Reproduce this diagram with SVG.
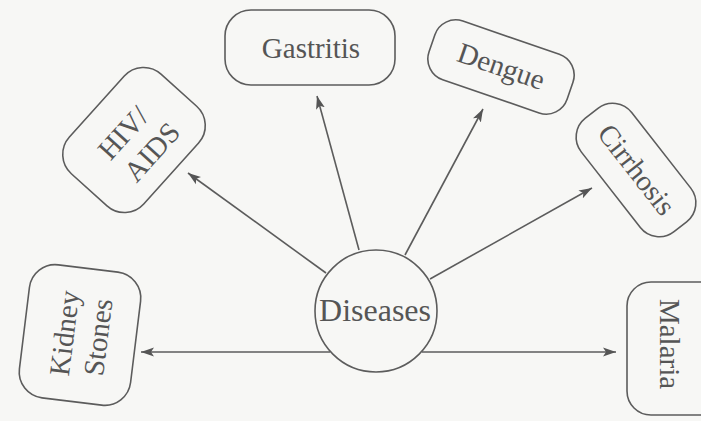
<svg xmlns="http://www.w3.org/2000/svg" width="701" height="421" viewBox="0 0 701 421">
<style>
.box{fill:#f7f7f5;stroke:#5c5c5c;stroke-width:1.6}
.t{font-family:"Liberation Serif","Times New Roman",serif;font-size:29px;fill:#555;text-anchor:middle}
.c{stroke:#5c5c5c;stroke-width:1.6;fill:none;marker-end:url(#ah)}
</style>
<defs>
<marker id="ah" markerUnits="userSpaceOnUse" markerWidth="14" markerHeight="10" refX="13" refY="5" orient="auto">
<path d="M0,0.5 L13,5 L0,9.5 L3,5 Z" fill="#555"/>
</marker>
</defs>
<rect x="0" y="0" width="701" height="421" fill="#f7f7f5"/>
<g id="connectors">
<line class="c" x1="326" y1="273" x2="188" y2="173"/>
<line class="c" x1="359" y1="250" x2="317" y2="96"/>
<line class="c" x1="405" y1="255" x2="483" y2="109"/>
<line class="c" x1="430" y1="279" x2="592" y2="188"/>
<line class="c" x1="330" y1="352" x2="141" y2="352"/>
<line class="c" x1="422" y1="352" x2="616" y2="352"/>
</g>
<g id="diseases">
<circle class="box" cx="376" cy="311" r="61"/>
<text class="t" x="375" y="321" style="font-size:32px">Diseases</text>
</g>
<g id="gastritis">
<rect class="box" x="225" y="10" width="170" height="75" rx="26"/>
<text class="t" x="311" y="58">Gastritis</text>
</g>
<g id="dengue" transform="translate(501,67) rotate(19)">
<rect class="box" x="-73" y="-31" width="146" height="62" rx="22"/>
<text class="t" x="0" y="9">Dengue</text>
</g>
<g id="hiv-aids" transform="translate(134,140) rotate(-48)">
<rect class="box" x="-67" y="-50" width="134" height="100" rx="26"/>
<text class="t" x="-2" y="-3">HIV/</text>
<text class="t" x="3" y="31">AIDS</text>
</g>
<g id="cirrhosis" transform="translate(636,170) rotate(52)">
<rect class="box" x="-72" y="-32" width="144" height="64" rx="24"/>
<text class="t" x="0" y="9">Cirrhosis</text>
</g>
<g id="kidney-stones" transform="translate(80,335) rotate(-83)">
<rect class="box" x="-67" y="-56" width="134" height="112" rx="26"/>
<text class="t" x="0" y="-6">Kidney</text>
<text class="t" x="0" y="28">Stones</text>
</g>
<g id="malaria">
<rect class="box" x="627" y="282" width="110" height="133" rx="24"/>
<g transform="translate(660,344) rotate(90)">
<text class="t" x="0" y="0">Malaria</text>
</g>
</g>
</svg>
